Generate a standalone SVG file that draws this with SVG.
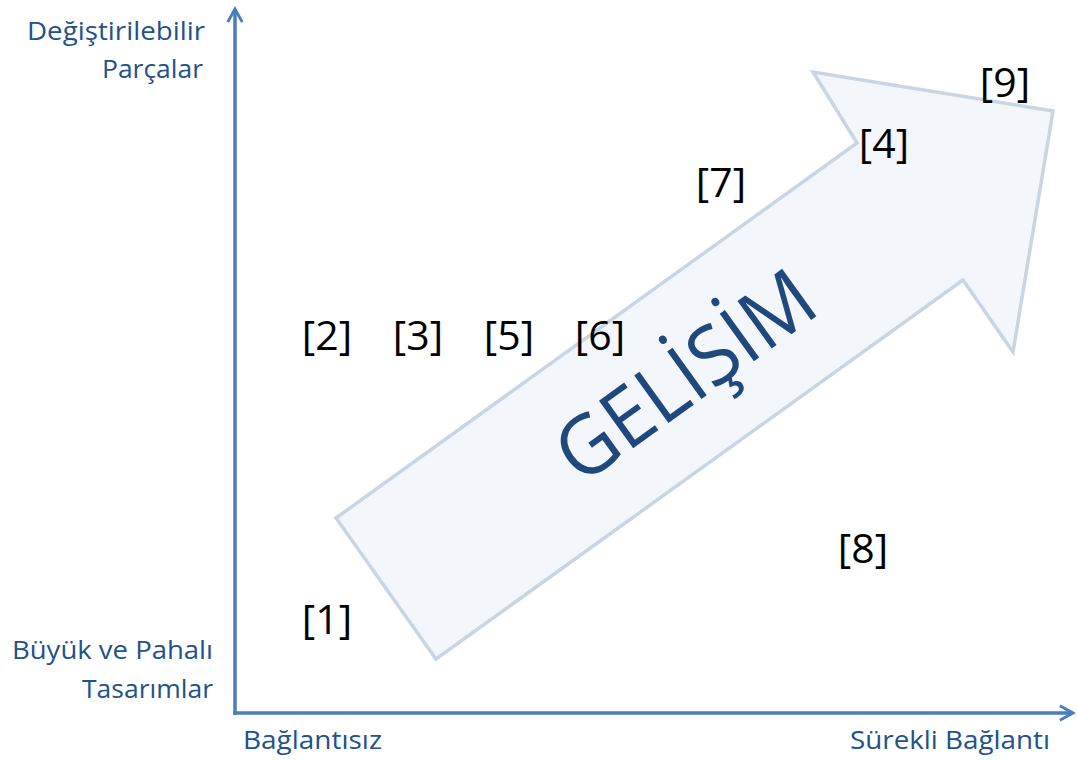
<svg xmlns="http://www.w3.org/2000/svg" width="1078" height="760" viewBox="0 0 1078 760">
<style>
.ax{stroke:#4A7EBB;stroke-width:3.5;fill:none}
.lbl{font-family:"Open Sans","Noto Sans","Liberation Sans",sans-serif;font-size:26px;fill:#23518A}
.ref{font-family:"Open Sans","Noto Sans","Liberation Sans",sans-serif;font-size:41px;fill:#000}
.big{font-family:"Open Sans","Noto Sans","Liberation Sans",sans-serif;font-size:82px;fill:#1F497D}
</style>
<defs>
<marker id="ah" viewBox="0 0 12 12" refX="10" refY="6" markerWidth="5" markerHeight="5" orient="auto" markerUnits="strokeWidth">
<path d="M1,1 L10,6 L1,11" fill="none" stroke="#4A7EBB" stroke-width="2"/>
</marker>
</defs>
<rect width="1078" height="760" fill="#fff"/>
<g id="arrow">
<polygon points="336,518 857,143 813,72 1053,111 1013,352 963,280 436,659" fill="#F3F7FB" stroke="#C9D5E3" stroke-width="3.5" stroke-linejoin="miter"/>
<text class="big" transform="translate(683,373) rotate(-35.8)" text-anchor="middle" dominant-baseline="central" textLength="298" lengthAdjust="spacingAndGlyphs">GELİŞİM</text>
</g>
<g id="connectors">
<line class="ax" x1="235" y1="715" x2="235" y2="9" marker-end="url(#ah)"/>
<line class="ax" x1="233" y1="713" x2="1073" y2="713" marker-end="url(#ah)"/>
</g>
<g id="axis-labels">
<text class="lbl" x="27" y="40" textLength="178" lengthAdjust="spacingAndGlyphs">Değiştirilebilir</text>
<text class="lbl" x="102" y="78" textLength="101" lengthAdjust="spacingAndGlyphs">Parçalar</text>
<text class="lbl" x="12" y="659" textLength="201" lengthAdjust="spacingAndGlyphs">Büyük ve Pahalı</text>
<text class="lbl" x="82" y="698" textLength="131" lengthAdjust="spacingAndGlyphs">Tasarımlar</text>
<text class="lbl" x="243" y="749" textLength="139" lengthAdjust="spacingAndGlyphs">Bağlantısız</text>
<text class="lbl" x="850" y="749" textLength="200" lengthAdjust="spacingAndGlyphs">Sürekli Bağlantı</text>
</g>
<g id="n1"><text class="ref" x="327" y="634" text-anchor="middle">[1]</text></g>
<g id="n2"><text class="ref" x="327" y="350" text-anchor="middle">[2]</text></g>
<g id="n3"><text class="ref" x="418" y="350" text-anchor="middle">[3]</text></g>
<g id="n5"><text class="ref" x="509" y="350" text-anchor="middle">[5]</text></g>
<g id="n6"><text class="ref" x="600" y="350" text-anchor="middle">[6]</text></g>
<g id="n7"><text class="ref" x="721" y="197" text-anchor="middle">[7]</text></g>
<g id="n4"><text class="ref" x="884" y="158" text-anchor="middle">[4]</text></g>
<g id="n9"><text class="ref" x="1005" y="97" text-anchor="middle">[9]</text></g>
<g id="n8"><text class="ref" x="863" y="563" text-anchor="middle">[8]</text></g>
</svg>
